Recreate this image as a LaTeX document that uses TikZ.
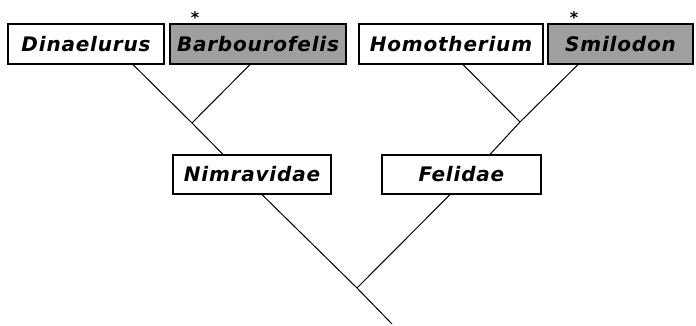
\documentclass[tikz,border=0pt]{standalone}
\usepackage{fontspec}
\usetikzlibrary{calc}
\newfontfamily\taxfont[LetterSpace=4]{DejaVu Sans}
\newcommand{\taxa}{\taxfont\bfseries\itshape\fontsize{20}{22}\selectfont}
\tikzset{
  taxon/.style={draw, line width=1.2pt, inner sep=0pt, minimum height=40pt, font=\taxa},
  fossil/.style={taxon, fill=gray!75},
  branch/.style={line width=1pt}
}
\begin{document}
\begin{tikzpicture}[x=1pt,y=-1pt]
  \useasboundingbox (0,0) rectangle (696,326);
  % tips
  \node[taxon, minimum width=156pt] (dina) at (86,44) {Dinaelurus};
  \node[fossil, minimum width=176pt] (barb) at (258,44) {Barbourofelis};
  \node[taxon, minimum width=184pt] (homo) at (451,44) {Homotherium};
  \node[fossil, minimum width=145pt] (smil) at (620.5,44) {Smilodon};
  \node[font=\taxfont\bfseries\fontsize{16}{16}\selectfont] (barbstar) at (195,18) {*};
  \node[font=\taxfont\bfseries\fontsize{16}{16}\selectfont] (smilstar) at (574,18) {*};
  % families
  \node[taxon, minimum width=158pt, minimum height=39pt] (nimr) at (252,174.5) {Nimravidae};
  \node[taxon, minimum width=159pt, minimum height=39pt] (feli) at (461.5,174.5) {Felidae};
  % branch points
  \coordinate (jn) at (192,123);
  \coordinate (jf) at (520,122);
  \coordinate (jr) at (357,288);
  \coordinate (root) at (392,324);
  \draw[branch] ($(dina.south)+(47,0)$) -- (jn) -- ($(nimr.north)+(-29,0)$);
  \draw[branch] ($(barb.south)+(-8,0)$) -- (jn);
  \draw[branch] ($(smil.south)+(-42.5,0)$) -- (jf) -- ($(feli.north)+(28.5,0)$);
  \draw[branch] ($(homo.south)+(12,0)$) -- (jf);
  \draw[branch] ($(nimr.south)+(10,0)$) -- (jr) -- (root);
  \draw[branch] ($(feli.south)+(-11.5,0)$) -- (jr);
\end{tikzpicture}
\end{document}
